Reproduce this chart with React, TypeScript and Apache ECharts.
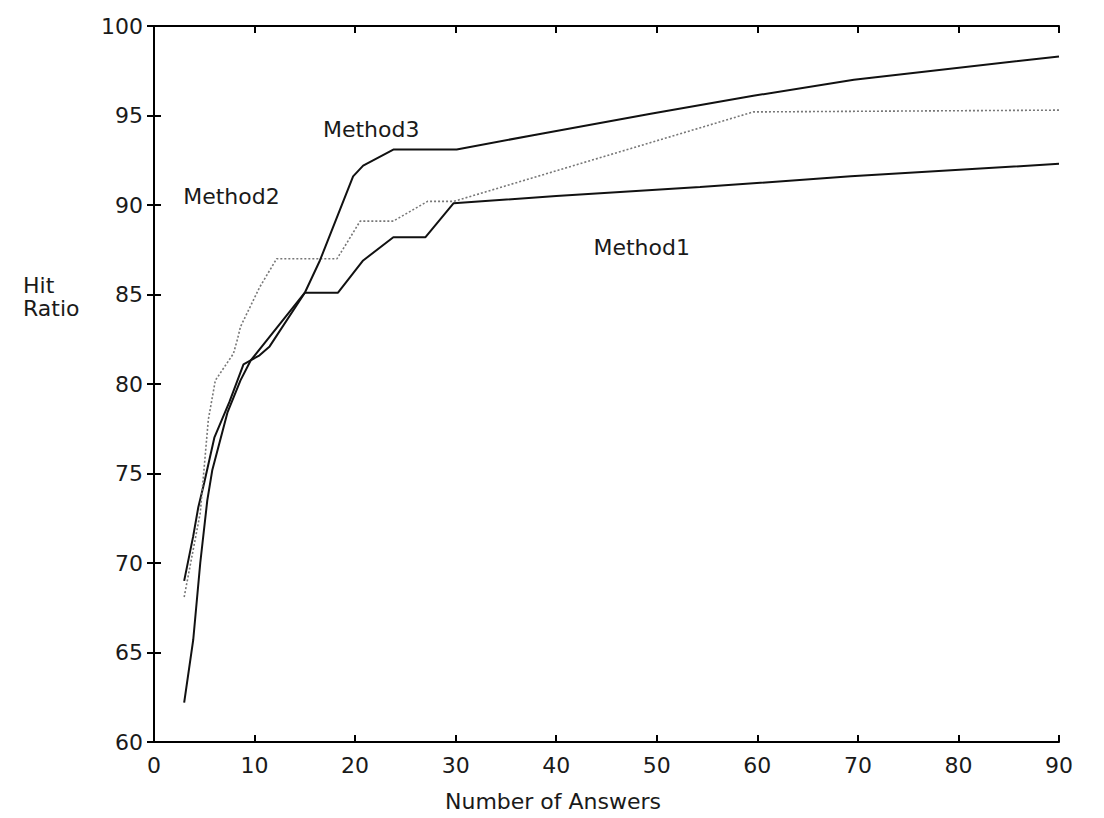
import React, { useEffect, useRef } from "react";
import * as echarts from "echarts";

const xTicks = [0, 10, 20, 30, 40, 50, 60, 70, 80, 90];
const yTicks = [60, 65, 70, 75, 80, 85, 90, 95, 100];

const method1X = [3, 3.9, 4.4, 5, 6, 7.5, 8.9, 10.5, 11.5, 15, 18.3, 20.8, 23.8, 27, 29.8, 40, 54.3, 69.3, 90];
const method1Y = [69, 71.5, 73.1, 74.5, 77, 79, 81.1, 81.6, 82.1, 85.1, 85.1, 86.9, 88.2, 88.2, 90.1, 90.5, 91, 91.6, 92.3];

const method2X = [3, 4.6, 5.4, 6.1, 7.9, 8.3, 8.6, 10.5, 12.2, 18.2, 19.2, 20.5, 23.8, 27.2, 29.8, 59.6, 90];
const method2Y = [68.1, 72.8, 78, 80.2, 81.7, 82.5, 83.2, 85.4, 87, 87, 87.9, 89.1, 89.1, 90.2, 90.2, 95.2, 95.3];

const method3X = [3, 3.9, 4.6, 5.3, 5.8, 7.3, 8.6, 9.6, 15, 16.5, 19.8, 20.8, 23.8, 30.1, 37.7, 49.4, 59.6, 69.6, 90];
const method3Y = [62.2, 65.7, 70, 73.5, 75.2, 78.4, 80.2, 81.3, 85.1, 86.9, 91.6, 92.2, 93.1, 93.1, 93.9, 95.1, 96.1, 97, 98.3];

const seriesNames = ["Method1", "Method2", "Method3"];
const labelCoords = [
  [48.5, 87.65],
  [7.7, 90.5],
  [21.6, 94.2],
];

const FONT = "DejaVu Sans";
const TEXT_COLOR = "#1a1a1a";

function pairs(xs: number[], ys: number[]) {
  return xs.map((x, i) => [x, ys[i]]);
}

export default function App() {
  const ref = useRef<HTMLDivElement>(null);
  useEffect(() => {
    if (!ref.current) return;
    const chart = echarts.init(ref.current, undefined, { renderer: "svg" });
    const axisLine = { show: true, lineStyle: { color: "#000", width: 2 } };
    const axisTick = { show: true, inside: true, length: 7, lineStyle: { color: "#000", width: 2 } };
    const labelStyle = { fontFamily: FONT, fontSize: 22, color: TEXT_COLOR };
    const mk = (i: number) => ({
      symbol: "circle",
      symbolSize: 1,
      itemStyle: { color: "rgba(0,0,0,0)" },
      label: {
        show: true,
        position: "inside",
        formatter: seriesNames[i],
        fontFamily: FONT,
        fontSize: 22,
        color: TEXT_COLOR,
      },
      data: [{ coord: labelCoords[i] }],
    });
    const data = [
      pairs(method1X, method1Y),
      pairs(method2X, method2Y),
      pairs(method3X, method3Y),
    ];
    chart.setOption({
      animation: false,
      backgroundColor: "#fff",
      grid: { left: 154, right: 45, top: 26, bottom: 76 },
      xAxis: [
        {
          type: "value",
          min: 0,
          max: 90,
          interval: 10,
          position: "bottom",
          axisLine,
          axisTick,
          splitLine: { show: false },
          axisLabel: { ...labelStyle, margin: 12, formatter: (v: number) => (xTicks.includes(v) ? String(v) : "") },
        },
        {
          type: "value",
          min: 0,
          max: 90,
          interval: 10,
          position: "top",
          axisLine,
          axisTick,
          splitLine: { show: false },
          axisLabel: { show: false },
        },
      ],
      yAxis: [
        {
          type: "value",
          min: 60,
          max: 100,
          interval: 5,
          position: "left",
          axisLine,
          axisTick,
          splitLine: { show: false },
          axisLabel: { ...labelStyle, margin: 11, formatter: (v: number) => (yTicks.includes(v) ? String(v) : "") },
        },
        {
          type: "value",
          min: 60,
          max: 100,
          interval: 5,
          position: "right",
          axisLine,
          axisTick,
          splitLine: { show: false },
          axisLabel: { show: false },
        },
      ],
      series: [
        {
          name: seriesNames[0],
          type: "line",
          data: data[0],
          showSymbol: false,
          lineStyle: { color: "#111", width: 2 },
          markPoint: mk(0),
        },
        {
          name: seriesNames[1],
          type: "line",
          data: data[1],
          showSymbol: false,
          lineStyle: { color: "#777", width: 1.6, type: [2, 2] },
          markPoint: mk(1),
        },
        {
          name: seriesNames[2],
          type: "line",
          data: data[2],
          showSymbol: false,
          lineStyle: { color: "#111", width: 2 },
          markPoint: mk(2),
        },
      ],
      graphic: [
        {
          type: "text",
          left: 23,
          top: 274,
          style: { text: "Hit", fontFamily: FONT, fontSize: 22, fill: TEXT_COLOR },
        },
        {
          type: "text",
          left: 23,
          top: 297,
          style: { text: "Ratio", fontFamily: FONT, fontSize: 22, fill: TEXT_COLOR },
        },
        {
          type: "text",
          left: 445,
          top: 790,
          style: { text: "Number of Answers", fontFamily: FONT, fontSize: 22, fill: TEXT_COLOR },
        },
      ],
    });
    return () => chart.dispose();
  }, []);
  return (
    <div
      ref={ref}
      style={{ position: "fixed", left: 0, top: 0, width: 1104, height: 818, background: "#fff" }}
    />
  );
}
